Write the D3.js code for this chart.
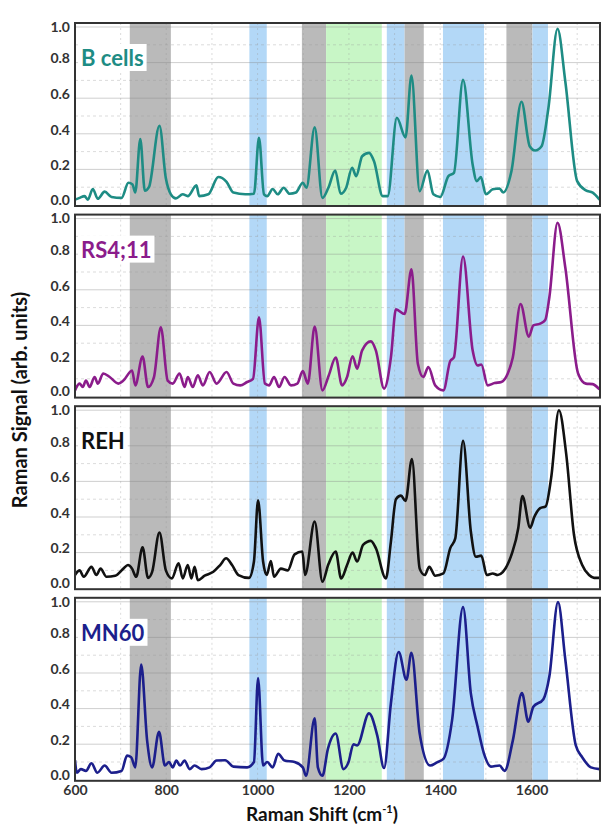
<!DOCTYPE html>
<html>
<head>
<meta charset="utf-8">
<script src="https://cdn.jsdelivr.net/npm/d3@7"></script>
<style>
  body { margin: 0; background: #fff; }
  text { font-family: "Lato", "Open Sans", sans-serif; font-weight: bold; }
</style>
</head>
<body>
<div id="chart"></div>
<script>
// panel names and colours
var cellNames = ["B cells", "RS4;11", "REH", "MN60"];
var cellColors = ["#1e8c84", "#8b1c8b", "#111111", "#1c1f8c"];

// shaded bands [from, to, kind]
var bandFrom = [720, 982, 1097, 1150, 1283, 1322, 1406, 1545, 1602];
var bandTo   = [810, 1020, 1150, 1272, 1322, 1364, 1496, 1602, 1636];
var bandKind = ["gray", "blue", "gray", "green", "blue", "gray", "blue", "gray", "blue"];

var xTicks = [600, 800, 1000, 1200, 1400, 1600];
var yTicks = [0, 0.2, 0.4, 0.6, 0.8, 1.0];

// B cells
var bShift = [600,610,621,628,639,650,665,680,702,717,726,732,743,753,762,785,799,810,821,836,847,866,872,892,914,932,947,973,992,1003,1014,1021,1033,1044,1057,1070,1084,1099,1107,1125,1142,1155,1170,1182,1194,1207,1216,1229,1244,1255,1274,1285,1305,1324,1337,1355,1372,1385,1400,1418,1430,1450,1471,1480,1489,1500,1515,1530,1538,1556,1578,1596,1608,1622,1637,1657,1674,1700,1719,1734,1749];
var bSignal = [0.03,0.04,0.05,0.03,0.09,0.035,0.075,0.045,0.04,0.125,0.115,0.07,0.37,0.08,0.1,0.445,0.15,0.06,0.037,0.06,0.05,0.11,0.05,0.06,0.157,0.13,0.07,0.06,0.063,0.377,0.06,0.05,0.09,0.06,0.097,0.063,0.07,0.125,0.097,0.437,0.04,0.097,0.194,0.063,0.097,0.209,0.162,0.274,0.293,0.246,0.05,0.05,0.49,0.38,0.727,0.078,0.194,0.06,0.045,0.162,0.18,0.703,0.228,0.134,0.157,0.06,0.088,0.093,0.07,0.19,0.58,0.33,0.306,0.33,0.545,0.99,0.694,0.134,0.082,0.07,0.03];

// RS4;11
var rsShift = [600,610,617,624,632,643,650,662,676,695,706,725,732,748,760,773,788,803,814,829,840,847,858,869,880,895,910,932,947,962,977,990,1003,1016,1025,1036,1047,1059,1073,1087,1099,1110,1125,1142,1156,1171,1185,1196,1208,1218,1229,1248,1259,1277,1292,1303,1322,1337,1351,1363,1374,1389,1407,1422,1430,1450,1471,1482,1490,1504,1519,1534,1548,1559,1576,1594,1604,1619,1630,1639,1657,1674,1702,1719,1734,1749];
var rsSignal = [0.035,0.073,0.054,0.09,0.054,0.11,0.073,0.13,0.11,0.073,0.09,0.147,0.063,0.225,0.054,0.11,0.39,0.09,0.073,0.13,0.054,0.11,0.054,0.12,0.063,0.138,0.073,0.138,0.073,0.063,0.082,0.1,0.445,0.073,0.063,0.11,0.054,0.11,0.063,0.073,0.143,0.073,0.393,0.035,0.12,0.22,0.063,0.11,0.227,0.157,0.26,0.31,0.26,0.045,0.22,0.49,0.464,0.715,0.185,0.11,0.166,0.063,0.035,0.2,0.22,0.787,0.26,0.175,0.18,0.063,0.076,0.082,0.13,0.22,0.52,0.337,0.4,0.41,0.43,0.557,0.977,0.725,0.13,0.073,0.07,0.04];

// REH
var rehShift = [600,610,619,636,647,656,669,688,706,716,725,734,748,760,769,785,799,812,827,836,847,855,862,869,884,903,918,931,944,958,981,992,1001,1012,1020,1029,1036,1051,1066,1081,1098,1104,1125,1142,1155,1171,1183,1196,1208,1218,1231,1248,1259,1281,1292,1303,1314,1324,1338,1355,1366,1376,1389,1407,1422,1433,1450,1467,1478,1490,1502,1515,1526,1537,1556,1571,1580,1597,1606,1619,1631,1643,1660,1676,1693,1711,1726,1737,1749];
var rehSignal = [0.074,0.1,0.064,0.12,0.074,0.11,0.064,0.07,0.11,0.13,0.11,0.064,0.23,0.058,0.092,0.313,0.1,0.055,0.14,0.055,0.13,0.055,0.12,0.045,0.07,0.092,0.13,0.168,0.13,0.074,0.058,0.15,0.494,0.15,0.074,0.153,0.064,0.11,0.1,0.19,0.206,0.074,0.375,0.036,0.134,0.206,0.055,0.13,0.2,0.15,0.243,0.266,0.225,0.055,0.262,0.5,0.52,0.49,0.725,0.11,0.074,0.12,0.07,0.083,0.225,0.28,0.828,0.32,0.177,0.183,0.074,0.083,0.074,0.09,0.187,0.338,0.517,0.34,0.4,0.45,0.46,0.62,1.0,0.753,0.3,0.13,0.074,0.058,0.058];

// MN60
var mnShift = [600,604,613,624,636,649,665,680,702,714,723,732,745,758,769,784,797,806,814,822,830,840,851,862,877,895,910,929,947,977,992,1001,1012,1021,1033,1045,1059,1081,1099,1106,1125,1132,1142,1154,1171,1188,1199,1210,1218,1244,1262,1277,1292,1309,1326,1337,1355,1378,1393,1407,1426,1450,1467,1482,1496,1511,1530,1541,1559,1579,1593,1604,1626,1639,1658,1674,1697,1711,1730,1749];
var mnSignal = [0.11,0.04,0.06,0.05,0.093,0.04,0.08,0.04,0.05,0.136,0.127,0.07,0.648,0.22,0.07,0.27,0.08,0.1,0.07,0.108,0.08,0.108,0.06,0.08,0.06,0.07,0.108,0.11,0.074,0.07,0.1,0.572,0.08,0.1,0.07,0.146,0.108,0.1,0.07,0.023,0.345,0.07,0.023,0.174,0.26,0.06,0.098,0.2,0.193,0.373,0.25,0.066,0.43,0.718,0.562,0.714,0.26,0.08,0.098,0.117,0.335,0.97,0.487,0.297,0.146,0.074,0.08,0.05,0.22,0.487,0.326,0.41,0.453,0.58,0.998,0.676,0.193,0.127,0.07,0.06];

var shifts = [bShift, rsShift, rehShift, mnShift];
var signals = [bSignal, rsSignal, rehSignal, mnSignal];

var bandColor = { gray: "#bababa", blue: "#b3d8f7", green: "#c8f6c6" };

var width = 601, height = 825;
var left = 75, right = 600;
var panelTop = 23, panelStep = 191.6, panelH = 183;

var svg = d3.select("#chart").append("svg")
    .attr("width", width)
    .attr("height", height);

var x = d3.scaleLinear().domain([600, 1750]).range([left, right]);

cellNames.forEach(function (name, i) {
    var top = panelTop + i * panelStep;
    var y = d3.scaleLinear().domain([0, 1]).range([top + panelH - 1, top + 4]);
    var g = svg.append("g").attr("class", "panel");

    var clipId = "clip" + i;
    g.append("clipPath").attr("id", clipId)
        .append("rect").attr("x", left).attr("y", top).attr("width", right - left).attr("height", panelH);

    // bands
    g.selectAll("rect.band")
        .data(bandFrom)
        .enter().append("rect")
        .attr("class", "band")
        .attr("x", function (d) { return x(d); })
        .attr("width", function (d, j) { return x(bandTo[j]) - x(d); })
        .attr("y", top)
        .attr("height", panelH)
        .attr("fill", function (d, j) { return bandColor[bandKind[j]]; });

    // grid
    g.selectAll("line.minor")
        .data(d3.range(0.1, 1.0, 0.2))
        .enter().append("line")
        .attr("x1", left).attr("x2", right)
        .attr("y1", function (d) { return y(d); })
        .attr("y2", function (d) { return y(d); })
        .attr("stroke", "#999").attr("stroke-opacity", 0.35)
        .attr("stroke-dasharray", "3,3");
    g.selectAll("line.major")
        .data([0.2, 0.4, 0.6, 0.8, 1.0])
        .enter().append("line")
        .attr("x1", left).attr("x2", right)
        .attr("y1", function (d) { return y(d); })
        .attr("y2", function (d) { return y(d); })
        .attr("stroke", "#888").attr("stroke-opacity", 0.4);
    g.selectAll("line.vgrid")
        .data(d3.range(700, 1750, 100))
        .enter().append("line")
        .attr("x1", function (d) { return x(d); })
        .attr("x2", function (d) { return x(d); })
        .attr("y1", top).attr("y2", top + panelH)
        .attr("stroke", "#999").attr("stroke-opacity", 0.35)
        .attr("stroke-dasharray", "2,3");

    // label with white box
    var lab = g.append("text")
        .attr("x", 81).attr("y", top + 43)
        .attr("font-size", 22)
        .attr("fill", cellColors[i])
        .text(name);
    var bb = lab.node().getBBox();
    g.insert("rect", "text")
        .attr("x", bb.x - 3).attr("y", bb.y)
        .attr("width", bb.width + 6).attr("height", bb.height)
        .attr("fill", "#fff");

    // spectrum
    var pts = shifts[i].map(function (s, j) { return [s, signals[i][j]]; });
    var line = d3.line()
        .x(function (d) { return x(d[0]); })
        .y(function (d) { return y(d[1]); })
        .curve(d3.curveMonotoneX);
    g.append("path")
        .datum(pts)
        .attr("clip-path", "url(#" + clipId + ")")
        .attr("d", line)
        .attr("fill", "none")
        .attr("stroke", cellColors[i])
        .attr("stroke-width", 2.6)
        .attr("stroke-linejoin", "round");

    // frame
    g.append("rect")
        .attr("x", left).attr("y", top)
        .attr("width", right - left).attr("height", panelH)
        .attr("fill", "none").attr("stroke", "#333").attr("stroke-width", 2);

    // y axis (labels sit a little above their gridline, like the original)
    var ya = g.append("g")
        .attr("transform", "translate(" + left + ",0)")
        .call(d3.axisLeft(y).tickValues(yTicks).tickSize(0).tickPadding(5).tickFormat(d3.format(".1f")));
    ya.select(".domain").remove();
    ya.selectAll("text")
        .attr("font-size", 14).attr("fill", "#333")
        .attr("dy", function (d) { return d === 1 ? "0.3em" : d === 0 ? "-0.05em" : "0.02em"; })
        .style("font-family", "Lato, sans-serif").style("font-weight", "bold");

    if (i === cellNames.length - 1) {
        var xa = g.append("g")
            .attr("transform", "translate(0," + (top + panelH) + ")")
            .call(d3.axisBottom(x).tickValues(xTicks).tickSize(0).tickPadding(4).tickFormat(d3.format("d")));
        xa.select(".domain").remove();
        xa.selectAll("text")
            .attr("font-size", 14).attr("fill", "#333")
            .style("font-family", "Lato, sans-serif").style("font-weight", "bold");
    }
});

// axis titles
svg.append("text")
    .attr("transform", "translate(27,400) rotate(-90)")
    .attr("text-anchor", "middle")
    .attr("font-size", 20)
    .attr("fill", "#111")
    .text("Raman Signal (arb. units)");

var xt = svg.append("text")
    .attr("x", 322).attr("y", 821)
    .attr("text-anchor", "middle")
    .attr("font-size", 19)
    .attr("fill", "#111");
xt.append("tspan").text("Raman Shift (cm");
xt.append("tspan").attr("dy", -8).attr("font-size", 11).text("-1");
xt.append("tspan").attr("dy", 8).text(")");
</script>
</body>
</html>
